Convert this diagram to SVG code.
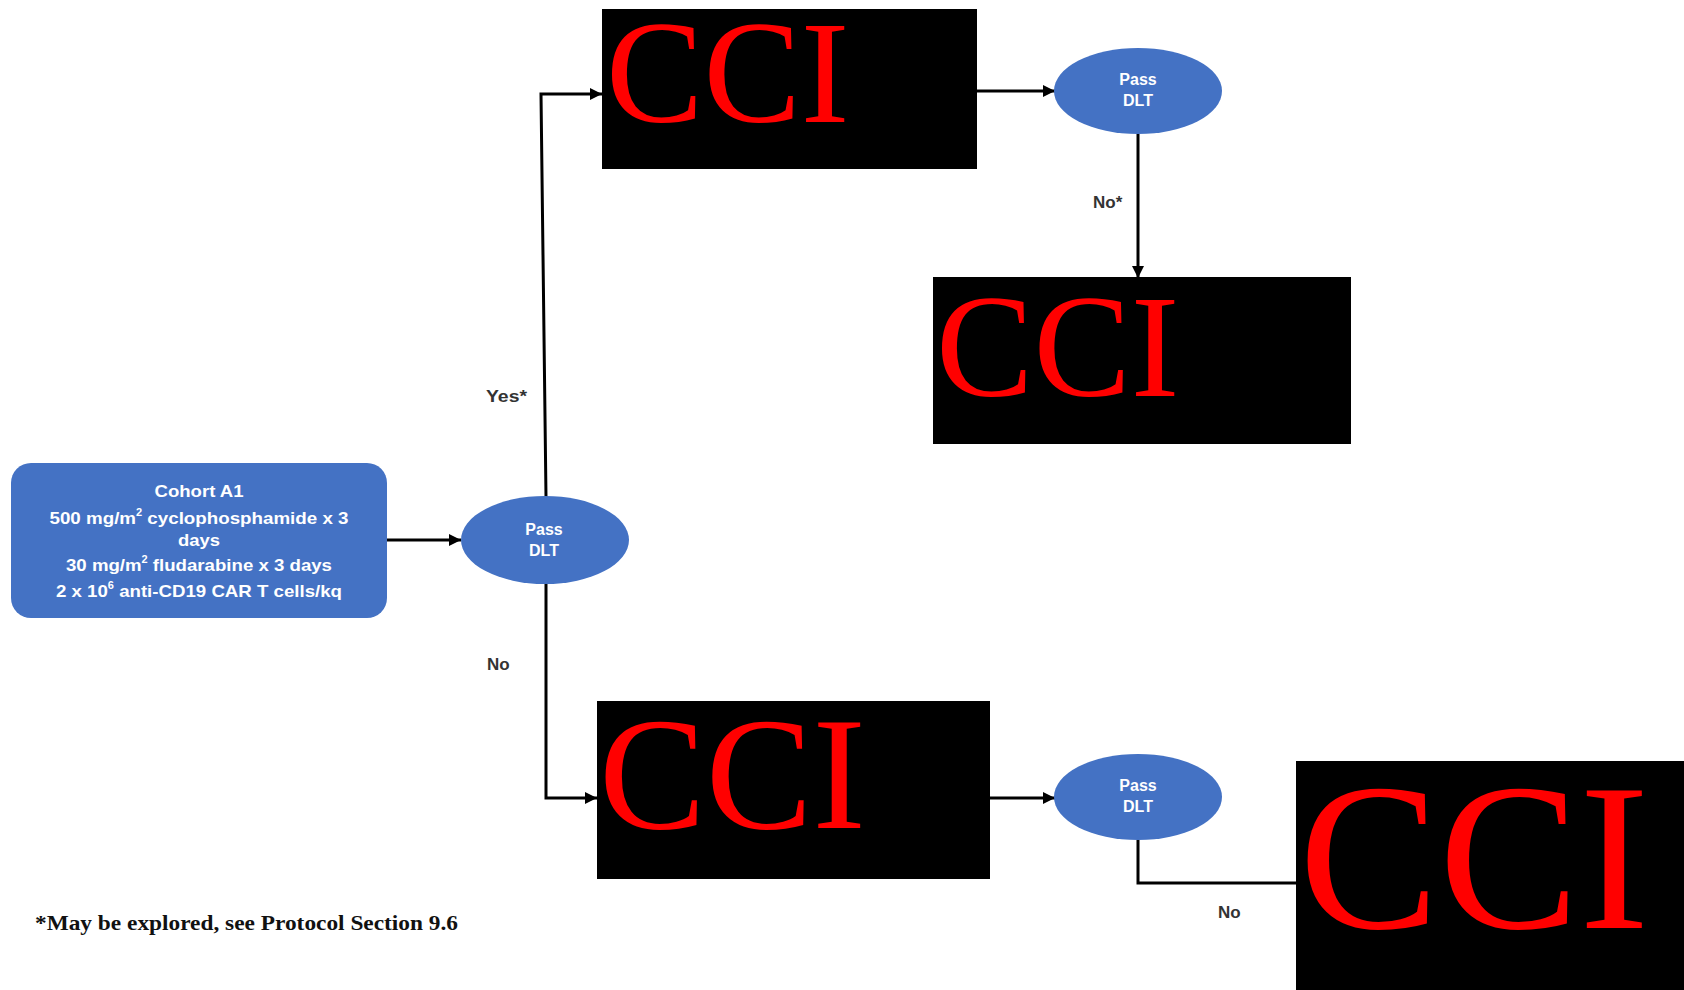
<svg xmlns="http://www.w3.org/2000/svg" width="1684" height="990" viewBox="0 0 1684 990">
<style>
.blue{fill:#4472C4}
.cci{fill:#000}
.ccit{fill:#FF0000;font-family:"Liberation Serif","Times New Roman",serif}
.wt{fill:#fff;font-family:"Liberation Sans",Arial,sans-serif;font-weight:bold;text-anchor:middle}
.lbl{fill:#333;font-family:"Liberation Sans",Arial,sans-serif;font-weight:bold;font-size:17px}
.ln{fill:none;stroke:#000;stroke-width:3}
.foot{fill:#111;font-family:"Liberation Serif","Times New Roman",serif;font-weight:bold;font-size:22px}
</style>
<defs>
<marker id="ah" viewBox="0 0 10 10" refX="10" refY="5" markerWidth="4" markerHeight="4" orient="auto" markerUnits="strokeWidth">
<path d="M0,0 L10,5 L0,10 z" fill="#000"/>
</marker>
</defs>
<rect width="1684" height="990" fill="#fff"/>

<g id="connectors">
<line class="ln" x1="387" y1="540" x2="461" y2="540" marker-end="url(#ah)"/>
<polyline class="ln" points="546,497 541,94 602,94" marker-end="url(#ah)"/>
<polyline class="ln" points="546,584 546,798 597,798" marker-end="url(#ah)"/>
<line class="ln" x1="977" y1="91" x2="1055" y2="91" marker-end="url(#ah)"/>
<line class="ln" x1="1138" y1="134" x2="1138" y2="278" marker-end="url(#ah)"/>
<line class="ln" x1="990" y1="798" x2="1055" y2="798" marker-end="url(#ah)"/>
<polyline class="ln" points="1138,840 1138,883 1297,883"/>
<text class="lbl" x="486" y="402" textLength="41" lengthAdjust="spacingAndGlyphs">Yes*</text>
<text class="lbl" x="487" y="670">No</text>
<text class="lbl" x="1093" y="208">No*</text>
<text class="lbl" x="1218" y="918">No</text>
</g>

<g id="cohort">
<rect class="blue" x="11" y="463" width="376" height="155" rx="20"/>
<text class="wt" font-size="17" x="199" y="497" textLength="89" lengthAdjust="spacingAndGlyphs">Cohort A1</text>
<text class="wt" font-size="17" x="199" y="524" textLength="299" lengthAdjust="spacingAndGlyphs">500 mg/m<tspan font-size="10" dy="-8">2</tspan><tspan dy="8"> cyclophosphamide  x 3</tspan></text>
<text class="wt" font-size="17" x="199" y="546" textLength="42" lengthAdjust="spacingAndGlyphs">days</text>
<text class="wt" font-size="17" x="199" y="571" textLength="266" lengthAdjust="spacingAndGlyphs">30 mg/m<tspan font-size="10" dy="-8">2</tspan><tspan dy="8"> fludarabine  x 3 days</tspan></text>
<text class="wt" font-size="17" x="199" y="597" textLength="286" lengthAdjust="spacingAndGlyphs">2 x 10<tspan font-size="10" dy="-8">6</tspan><tspan dy="8"> anti-CD19 CAR  T cells/kq</tspan></text>
</g>

<g id="dlt1">
<ellipse class="blue" cx="545" cy="540" rx="84" ry="44"/>
<text class="wt" font-size="16" x="544" y="535">Pass</text>
<text class="wt" font-size="16" x="544" y="556">DLT</text>
</g>

<g id="cci1">
<rect class="cci" x="602" y="9" width="375" height="160"/>
<text class="ccit" font-size="146" x="606" y="122">CCI</text>
</g>

<g id="dlt2">
<ellipse class="blue" cx="1138" cy="91" rx="84" ry="43"/>
<text class="wt" font-size="16" x="1138" y="85">Pass</text>
<text class="wt" font-size="16" x="1138" y="106">DLT</text>
</g>

<g id="cci2">
<rect class="cci" x="933" y="277" width="418" height="167"/>
<text class="ccit" font-size="146" x="936" y="396">CCI</text>
</g>

<g id="cci3">
<rect class="cci" x="597" y="701" width="393" height="178"/>
<text class="ccit" font-size="160" x="599" y="828">CCI</text>
</g>

<g id="dlt3">
<ellipse class="blue" cx="1138" cy="797" rx="84" ry="43"/>
<text class="wt" font-size="16" x="1138" y="791">Pass</text>
<text class="wt" font-size="16" x="1138" y="812">DLT</text>
</g>

<g id="cci4">
<rect class="cci" x="1296" y="761" width="388" height="229"/>
<text class="ccit" font-size="210" x="1299" y="928">CCI</text>
</g>

<g id="footnote">
<text class="foot" x="35" y="930" textLength="423" lengthAdjust="spacingAndGlyphs">*May be explored, see Protocol Section 9.6</text>
</g>
</svg>
